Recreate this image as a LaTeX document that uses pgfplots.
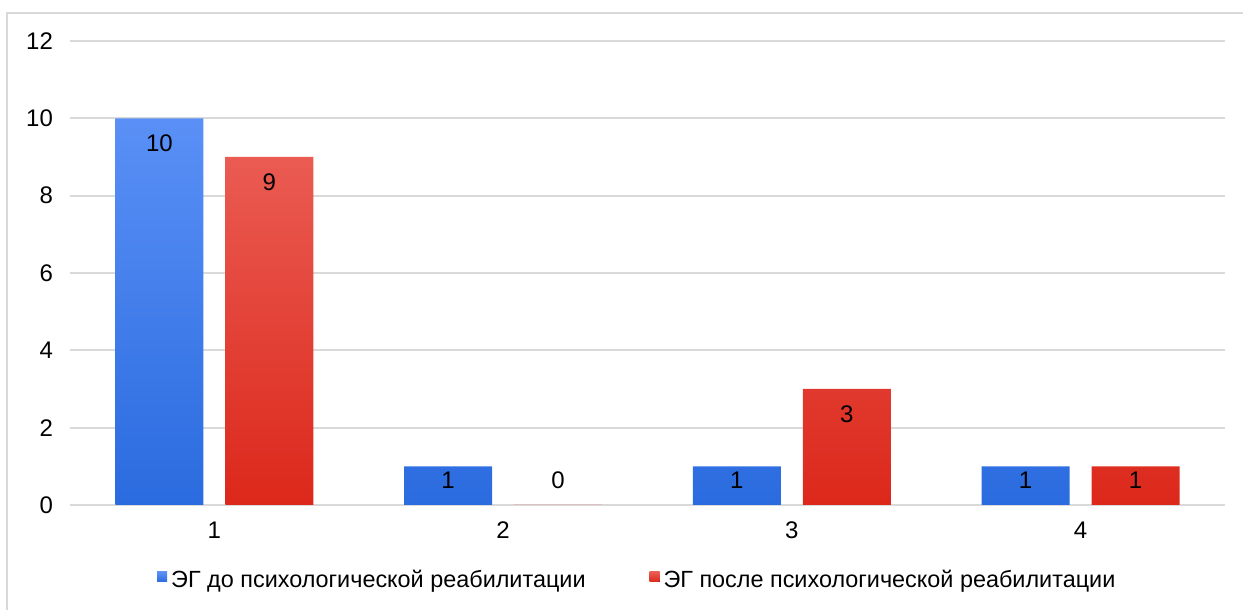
\documentclass[border=0pt]{standalone}
\usepackage{fontspec}
\setmainfont{Liberation Sans}
\usepackage{pgfplots}
\pgfplotsset{compat=1.18}

\definecolor{blueTop}{HTML}{5A90F6}
\definecolor{blueBot}{HTML}{2A6BDF}
\definecolor{redTop}{HTML}{EA5B52}
\definecolor{redBot}{HTML}{DC281B}
\definecolor{gridc}{HTML}{D9D9D9}

\begin{document}
\begin{tikzpicture}[x=1pt,y=1pt]
\useasboundingbox (-35,-52.5) rectangle (586.5,252.5);
% outer frame (left and top only)
\draw[gridc, line width=1.2pt] (-31.5,-60) -- (-31.5,246) -- (600,246);

\begin{axis}[
    at={(0,0)}, anchor=south west,
    scale only axis,
    width=577.5pt, height=232pt,
    xmin=0.5, xmax=4.5,
    ymin=0, ymax=12,
    ybar=11pt, bar width=44pt,
    xtick={1,2,3,4},
    ytick={0,2,...,12},
    major tick length=0pt,
    axis line style={draw=none},
    ymajorgrids,
    grid style={gridc, line width=1pt},
    /pgf/number format/assume math mode=true,
    tick label style={font=\fontsize{12}{14}\selectfont},
    yticklabel style={xshift=-5pt},
    xticklabel style={yshift=-5pt},
    nodes near coords,
    visualization depends on={y \as \rawy},
    every node near coord/.append style={
        font=\fontsize{12}{14}\selectfont, text=black, anchor=center,
        /pgf/number format/assume math mode=true,
        yshift={max(-12.5,12.5-\rawy*19.333)}},
    legend columns=2,
    legend style={at={(0.492,0)}, anchor=center, yshift=-37.5pt,
        draw=none, font=\fontsize{11.7}{13}\selectfont,
        /tikz/every even column/.append style={column sep=30pt}},
    legend image code/.code={\fill[#1] (-1.5pt,-1pt) rectangle (3.5pt,4pt);},
]
\addplot[draw=none, top color=blueTop, bottom color=blueBot]
    coordinates {(1,10) (2,1) (3,1) (4,1)};
\addlegendentry{ЭГ до психологической реабилитации}
\addplot[draw=none, top color=redTop, bottom color=redBot]
    coordinates {(1,9) (2,0) (3,3) (4,1)};
\addlegendentry{ЭГ после психологической реабилитации}
\end{axis}
\end{tikzpicture}
\end{document}
